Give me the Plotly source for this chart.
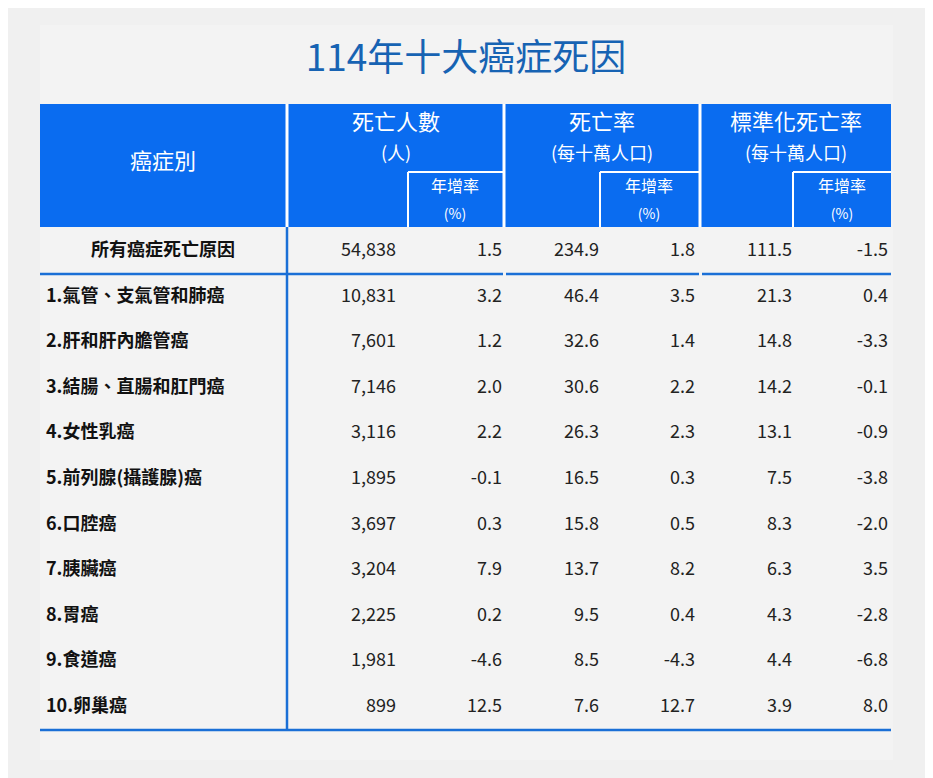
import plotly.graph_objects as go

title = "114年十大癌症死因"
labels = ["所有癌症死亡原因", "1.氣管、支氣管和肺癌", "2.肝和肝內膽管癌", "3.結腸、直腸和肛門癌",
          "4.女性乳癌", "5.前列腺(攝護腺)癌", "6.口腔癌", "7.胰臟癌", "8.胃癌", "9.食道癌", "10.卵巢癌"]
deaths = ["54,838", "10,831", "7,601", "7,146", "3,116", "1,895", "3,697", "3,204", "2,225", "1,981", "899"]
deaths_g = ["1.5", "3.2", "1.2", "2.0", "2.2", "-0.1", "0.3", "7.9", "0.2", "-4.6", "12.5"]
rate = ["234.9", "46.4", "32.6", "30.6", "26.3", "16.5", "15.8", "13.7", "9.5", "8.5", "7.6"]
rate_g = ["1.8", "3.5", "1.4", "2.2", "2.3", "0.3", "0.5", "8.2", "0.4", "-4.3", "12.7"]
std = ["111.5", "21.3", "14.8", "14.2", "13.1", "7.5", "8.3", "6.3", "4.3", "4.4", "3.9"]
std_g = ["-1.5", "0.4", "-3.3", "-0.1", "-0.9", "-3.8", "-2.0", "3.5", "-2.8", "-6.8", "8.0"]
groups = ["死亡人數", "死亡率", "標準化死亡率"]
units = ["(人)", "(每十萬人口)", "(每十萬人口)"]
sub1 = "年增率"
sub2 = "(%)"

FONT = "Noto Sans CJK TC"
BLUE = "#0a6cf0"
LINE = "#1a6fd6"
fig = go.Figure()
shapes = []
shapes.append(dict(type="rect", x0=40, x1=893, y0=25, y1=760, fillcolor="#f3f3f3", line_width=0, layer="below"))
shapes.append(dict(type="rect", x0=40, x1=891, y0=104, y1=227, fillcolor=BLUE, line_width=0, layer="below"))
for x in [287, 504, 700]:
    shapes.append(dict(type="line", x0=x, x1=x, y0=104, y1=227, line=dict(color="white", width=3), layer="below"))
for x0, x1 in [(408, 504), (600, 700), (793, 891)]:
    shapes.append(dict(type="line", x0=x0, x1=x0, y0=172, y1=227, line=dict(color="white", width=2), layer="below"))
    shapes.append(dict(type="line", x0=x0, x1=x1, y0=172, y1=172, line=dict(color="white", width=2), layer="below"))
shapes.append(dict(type="line", x0=287, x1=287, y0=227, y1=730, line=dict(color=LINE, width=2.5)))
for x0, x1 in [(40, 503), (506, 699), (702, 891)]:
    shapes.append(dict(type="line", x0=x0, x1=x1, y0=274, y1=274, line=dict(color=LINE, width=2.5)))
shapes.append(dict(type="line", x0=40, x1=891, y0=730, y1=730, line=dict(color=LINE, width=2.5)))

ys = [251] + [297 + i * 45.6 for i in range(10)]
fig.add_trace(go.Scatter(x=[466], y=[62], mode="text", text=[title],
                         textfont=dict(family=FONT, size=37, color="#1763b3")))
fig.add_trace(go.Scatter(x=[163, 396, 602, 796], y=[163, 124, 124, 124], mode="text",
                         text=["癌症別"] + groups,
                         textfont=dict(family=FONT, size=22, color="white")))
fig.add_trace(go.Scatter(x=[396, 602, 796], y=[155] * 3, mode="text", text=units,
                         textfont=dict(family=FONT, size=18, color="white")))
fig.add_trace(go.Scatter(x=[455, 649, 842], y=[188] * 3, mode="text", text=[sub1] * 3,
                         textfont=dict(family=FONT, size=16, color="white")))
fig.add_trace(go.Scatter(x=[455, 649, 842], y=[215] * 3, mode="text", text=[sub2] * 3,
                         textfont=dict(family=FONT, size=14, color="white")))
fig.add_trace(go.Scatter(x=[163], y=[ys[0]], mode="text", text=["<b>" + labels[0] + "</b>"],
                         textfont=dict(family=FONT, size=18, color="#111")))
fig.add_trace(go.Scatter(x=[46] * 10, y=ys[1:], mode="text", textposition="middle right",
                         text=["<b>" + l + "</b>" for l in labels[1:]],
                         textfont=dict(family=FONT, size=18, color="#111")))
cols = [(deaths, 396), (deaths_g, 502), (rate, 599), (rate_g, 695), (std, 792), (std_g, 888)]
for vals, xr in cols:
    fig.add_trace(go.Scatter(x=[xr] * len(vals), y=ys, mode="text", textposition="middle left",
                             text=vals, textfont=dict(family=FONT, size=18, color="#222")))

fig.update_layout(width=933, height=778, margin=dict(l=0, r=0, t=0, b=0),
                  paper_bgcolor="#f0f0f0", plot_bgcolor="#f0f0f0", showlegend=False,
                  shapes=shapes,
                  xaxis=dict(range=[8, 941], visible=False, fixedrange=True),
                  yaxis=dict(range=[786, 8], visible=False, fixedrange=True))
fig.write_html("out.html")
